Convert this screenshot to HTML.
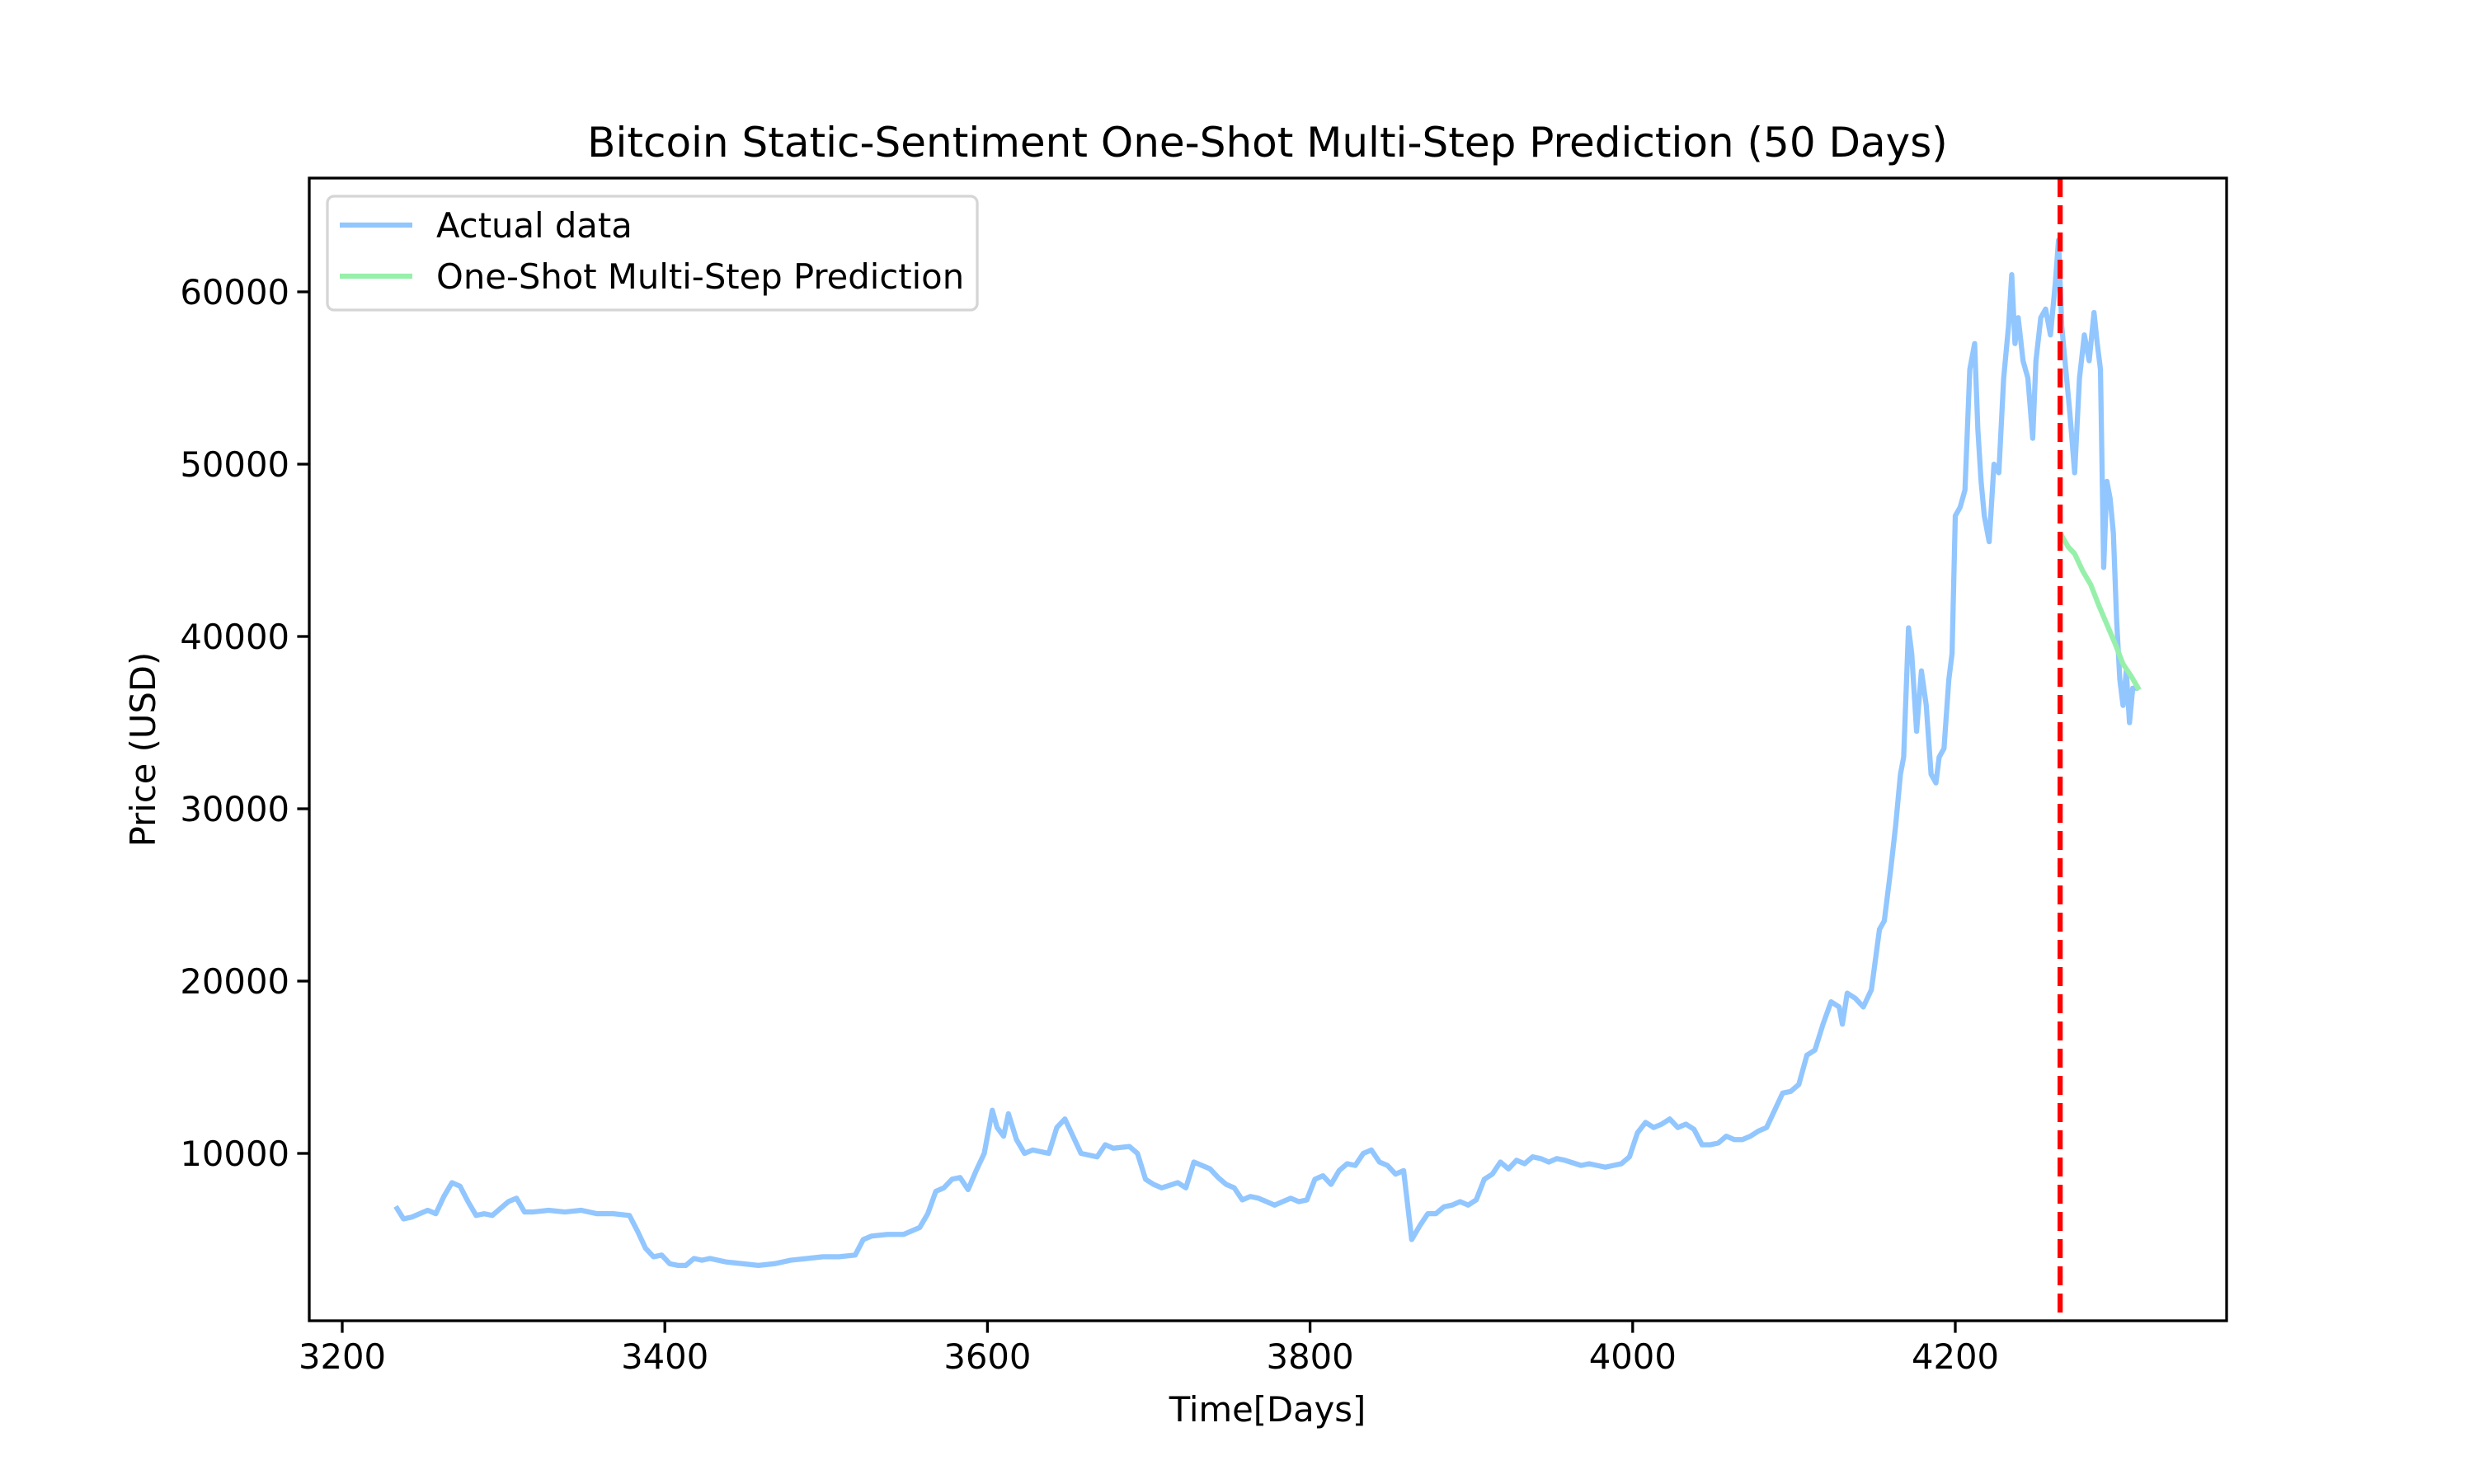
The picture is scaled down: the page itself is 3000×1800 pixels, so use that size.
<!DOCTYPE html>
<html><head><meta charset="utf-8"><style>
html,body{margin:0;padding:0;background:#fff;}
svg{display:block;font-family:"DejaVu Sans","Liberation Sans",sans-serif;}
</style></head><body>
<svg id="chart" width="3000" height="1800" viewBox="0 0 3000 1800" xmlns="http://www.w3.org/2000/svg">
<rect width="3000" height="1800" fill="#fff"/>
<text x="1537" y="190" font-size="50" text-anchor="middle">Bitcoin Static-Sentiment One-Shot Multi-Step Prediction (50 Days)</text>
<g id="plot"></g>
<text x="1537" y="1724" font-size="41.7" text-anchor="middle">Time[Days]</text>
<text transform="translate(188,909) rotate(-90)" font-size="41.7" text-anchor="middle">Price (USD)</text>
</svg>
<script>
const actualDays=[3234,3238,3243,3248,3253,3258,3263,3268,3273,3278,3283,3288,3293,3298,3303,3308,3313,3318,3328,3338,3348,3358,3368,3378,3383,3388,3393,3398,3403,3408,3413,3418,3423,3428,3438,3448,3458,3468,3478,3488,3498,3508,3518,3523,3528,3538,3548,3558,3563,3568,3573,3578,3583,3588,3593,3598,3603,3606,3610,3613,3618,3623,3628,3638,3643,3648,3653,3658,3668,3673,3678,3688,3693,3698,3703,3708,3718,3723,3728,3733,3738,3743,3748,3753,3758,3763,3768,3773,3778,3783,3788,3793,3798,3803,3808,3813,3818,3823,3828,3833,3838,3843,3848,3853,3858,3863,3868,3873,3878,3883,3888,3893,3898,3903,3908,3913,3918,3923,3928,3933,3938,3943,3948,3953,3958,3968,3973,3978,3983,3988,3993,3998,4003,4008,4013,4018,4023,4028,4033,4038,4043,4048,4053,4058,4063,4068,4073,4078,4083,4088,4093,4098,4103,4108,4113,4118,4123,4128,4130,4133,4138,4143,4148,4153,4156,4160,4163,4166,4168,4171,4173,4176,4179,4182,4185,4188,4190,4193,4196,4198,4200,4203,4206,4209,4212,4214,4216,4218,4221,4224,4227,4230,4233,4235,4237,4239,4242,4245,4248,4250,4253,4256,4259,4262,4264,4266,4268,4271,4274,4277,4280,4283,4286,4288,4290,4292,4294,4296,4298,4300,4302,4304,4306,4308,4310,4312,4314];
const actualPrices=[6800,6200,6300,6500,6700,6500,7500,8300,8100,7200,6400,6500,6400,6800,7200,7400,6600,6600,6700,6600,6700,6500,6500,6400,5500,4500,4000,4100,3600,3500,3500,3900,3800,3900,3700,3600,3500,3600,3800,3900,4000,4000,4100,5000,5200,5300,5300,5700,6500,7800,8000,8500,8600,7900,9000,10000,12500,11500,11000,12300,10800,10000,10200,10000,11500,12000,11000,10000,9800,10500,10300,10400,10000,8500,8200,8000,8300,8000,9500,9300,9100,8600,8200,8000,7300,7500,7400,7200,7000,7200,7400,7200,7300,8500,8700,8200,9000,9400,9300,10000,10200,9500,9300,8800,9000,5000,5800,6500,6500,6900,7000,7200,7000,7300,8500,8800,9500,9100,9600,9400,9800,9700,9500,9700,9600,9300,9400,9300,9200,9300,9400,9800,11200,11800,11500,11700,12000,11500,11700,11400,10500,10500,10600,11000,10800,10800,11000,11300,11500,12500,13500,13600,14000,15700,16000,17500,18800,18500,17500,19300,19000,18500,19500,23000,23500,26500,29000,32000,33000,40500,39000,34500,38000,36000,32000,31500,33000,33500,37500,39000,47000,47500,48500,55500,57000,52000,49000,47000,45500,50000,49500,55000,58000,61000,57000,58500,56000,55000,51500,56000,58500,59000,57500,60500,63000,58000,56000,53000,49500,55000,57500,56000,58800,57000,55500,44000,49000,48000,46000,41000,37500,36000,38000,35000,37000,37000];
const predDays=[4265,4270,4274,4279,4284,4289,4294,4299,4304,4309,4314];
const predPrices=[46000,45200,44800,43800,43000,41800,40700,39600,38400,37700,36900];
const splitDay=[4265];
const xTicks=[3200,3400,3600,3800,4000,4200];
const yTicks=[10000,20000,30000,40000,50000,60000];
const legendLabels=["Actual data","One-Shot Multi-Step Prediction"];

const L=375,R=2700,T=216,B=1602;
const X=d=>415+(d-3200)*1.956;
const Y=v=>1399-(v-10000)*0.0209;
const NS="http://www.w3.org/2000/svg";
const g=document.getElementById('plot');
function mk(tag,attrs,parent){const e=document.createElementNS(NS,tag);for(const k in attrs)e.setAttribute(k,attrs[k]);(parent||g).appendChild(e);return e;}
const clip=mk('clipPath',{id:'cp'});mk('rect',{x:L,y:T,width:R-L,height:B-T},clip);
const a=mk('polyline',{points:actualDays.map((d,i)=>X(d)+','+Y(actualPrices[i])).join(' '),fill:'none',stroke:'#92c6ff','stroke-width':6.25,'stroke-linejoin':'round','stroke-linecap':'square','clip-path':'url(#cp)'});


const p=mk('polyline',{points:predDays.map((d,i)=>X(d)+','+Y(predPrices[i])).join(' '),fill:'none',stroke:'#97f0aa','stroke-width':6.25,'stroke-linejoin':'round','clip-path':'url(#cp)'});


const vl=mk('line',{x1:X(splitDay[0]),x2:X(splitDay[0]),y1:T,y2:B,stroke:'#ff0000','stroke-width':6.25,'stroke-dasharray':'23 10'});


const frame=mk('rect',{x:L,y:T,width:R-L,height:B-T,fill:'none',stroke:'#000','stroke-width':3.3});


xTicks.forEach(t=>{
  const x=X(t);
  mk('line',{x1:x,x2:x,y1:B,y2:B+14.6,stroke:'#000','stroke-width':3.3});
  const tx=mk('text',{x:x,y:B+58,'font-size':41.7,'text-anchor':'middle'});tx.textContent=t;
  
  
});
yTicks.forEach(t=>{
  const y=Y(t);
  mk('line',{x1:L-14.6,x2:L,y1:y,y2:y,stroke:'#000','stroke-width':3.3});
  const tx=mk('text',{x:L-24,y:y+15,'font-size':41.7,'text-anchor':'end'});tx.textContent=t;
  
  
});
const lg=mk('g',{});


mk('rect',{x:397,y:238,width:788,height:138,rx:8,fill:'#fff',stroke:'#d5d5d5','stroke-width':3.3},lg);
const lc=['#92c6ff','#97f0aa'];
legendLabels.forEach((lab,i)=>{
  const y=273+i*62;
  mk('line',{x1:412,x2:500,y1:y,y2:y,stroke:lc[i],'stroke-width':6.25},lg);
  const t=mk('text',{x:529,y:y+15,'font-size':41.7},lg);t.textContent=lab;
  
  
});
</script>
</body></html>
